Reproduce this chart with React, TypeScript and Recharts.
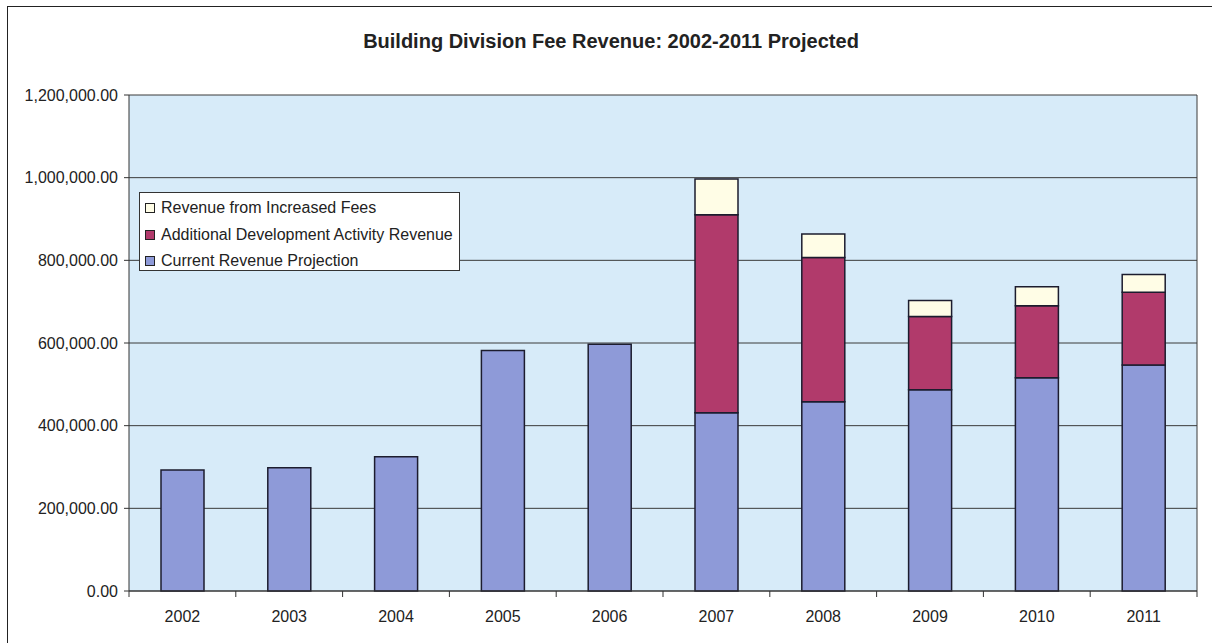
import { BarChart, Bar, XAxis, YAxis, CartesianGrid, Legend } from 'recharts';

const years = ['2002', '2003', '2004', '2005', '2006', '2007', '2008', '2009', '2010', '2011'];
const currentRevenue = [293000, 298000, 325000, 582000, 597000, 431000, 458000, 487000, 516000, 547000];
const additionalRevenue = [0, 0, 0, 0, 0, 479000, 349000, 177000, 174000, 176000];
const increasedFeesRevenue = [0, 0, 0, 0, 0, 87000, 57000, 39000, 46000, 43000];
const yTicks = [0, 200000, 400000, 600000, 800000, 1000000, 1200000];
const legendOrder = ['fees', 'additional', 'current'];

const data = years.map((year, i) => ({
  year,
  current: currentRevenue[i],
  additional: additionalRevenue[i],
  fees: increasedFeesRevenue[i],
}));

const FONT = '"Liberation Sans", Arial, sans-serif';
const EDGE = '#1c1c2e';
const LEGEND_H = 79;

const fmt = (v: number) =>
  v.toLocaleString('en-US', { minimumFractionDigits: 2, maximumFractionDigits: 2 });

const YearTick = (props: any) => {
  const { x, y, payload, index, visibleTicksCount } = props;
  const half = payload && payload.offset ? payload.offset : 53.4;
  return (
    <g>
      <line x1={x - half} x2={x - half} y1={y - 20} y2={y - 14} stroke="#333" />
      {index === visibleTicksCount - 1 && (
        <line x1={x + half} x2={x + half} y1={y - 20} y2={y - 14} stroke="#333" />
      )}
      <text x={x} y={y} dy="0.71em" textAnchor="middle" fontSize={16} fill="#222" fontFamily={FONT}>
        {payload.value}
      </text>
    </g>
  );
};

const renderLegend = (props: any) => {
  const items = (props.payload || [])
    .slice()
    .sort((a: any, b: any) => legendOrder.indexOf(a.dataKey) - legendOrder.indexOf(b.dataKey));
  return (
    <div
      style={{
        width: 321,
        height: LEGEND_H,
        background: '#fff',
        border: '1px solid #333',
        fontFamily: FONT,
        fontSize: 16,
        color: '#222',
        paddingTop: 2,
        boxSizing: 'border-box',
      }}
    >
      {items.map((it: any) => (
        <div key={it.value} style={{ height: 26.5, display: 'flex', alignItems: 'center', whiteSpace: 'nowrap' }}>
          <span
            style={{
              display: 'inline-block',
              width: 8,
              height: 8,
              marginLeft: 5,
              marginRight: 6,
              background: it.color,
              border: '1px solid #222',
            }}
          />
          {it.value}
        </div>
      ))}
    </div>
  );
};

export default function App() {
  return (
    <div style={{ position: 'absolute', left: 0, top: 0, width: 1212, height: 643, background: '#fff', overflow: 'hidden' }}>
      <div
        style={{
          position: 'absolute',
          left: 7,
          top: 6,
          width: 1205,
          height: 637,
          borderLeft: '1px solid #222',
          borderTop: '1px solid #222',
        }}
      />
      <div
        style={{
          position: 'absolute',
          left: 0,
          top: 30,
          width: 1222,
          textAlign: 'center',
          fontFamily: FONT,
          fontWeight: 'bold',
          fontSize: 20,
          color: '#222',
        }}
      >
        Building Division Fee Revenue: 2002-2011 Projected
      </div>
      <div style={{ position: 'absolute', left: 0, top: 0 }}>
        <BarChart
          width={1212}
          height={643}
          data={data}
          margin={{ top: 95, right: 15, bottom: 12 - LEGEND_H, left: 9 }}
          barSize={43}
        >
          <CartesianGrid
            fill="#d7ebf9"
            fillOpacity={1}
            stroke="#3a3a3a"
            vertical
            verticalCoordinatesGenerator={(p: any) => {
              const o = p && p.offset ? p.offset : { left: 129, width: 1068 };
              return [o.left + o.width];
            }}
          />
          <XAxis
            dataKey="year"
            height={40}
            tickLine={false}
            tickSize={6}
            tickMargin={14}
            axisLine={{ stroke: '#333' }}
            tick={<YearTick />}
            interval={0}
          />
          <YAxis
            width={120}
            domain={[0, 1200000]}
            ticks={yTicks}
            tickFormatter={fmt}
            tickSize={5}
            tickMargin={6}
            axisLine={{ stroke: '#333' }}
            tickLine={{ stroke: '#333' }}
            tick={{ fontSize: 16, fill: '#222', fontFamily: FONT }}
            interval={0}
          />
          <Legend
            content={renderLegend}
            wrapperStyle={{ position: 'absolute', left: 139, top: 192, width: 321, height: LEGEND_H }}
          />
          <Bar dataKey="current" name="Current Revenue Projection" stackId="a" fill="#8e9ad8" stroke={EDGE} strokeWidth={1.5} isAnimationActive={false} />
          <Bar dataKey="additional" name="Additional Development Activity Revenue" stackId="a" fill="#b13a6b" stroke={EDGE} strokeWidth={1.5} isAnimationActive={false} />
          <Bar dataKey="fees" name="Revenue from Increased Fees" stackId="a" fill="#fffde6" stroke={EDGE} strokeWidth={1.5} isAnimationActive={false} />
        </BarChart>
      </div>
    </div>
  );
}
